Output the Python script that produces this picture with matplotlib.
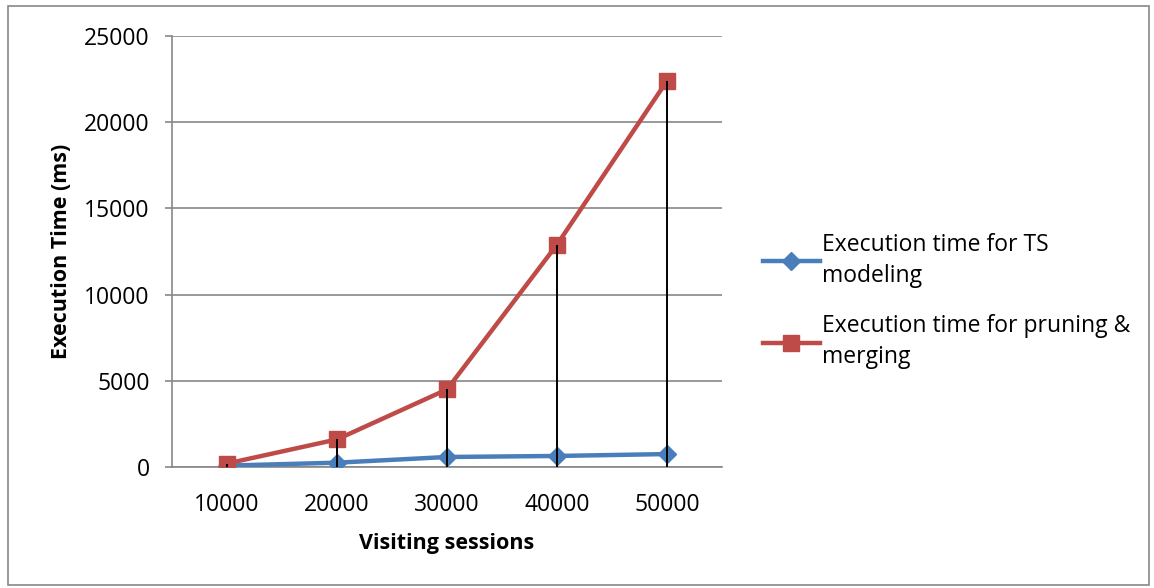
import numpy as np
import matplotlib
matplotlib.use("Agg")
import matplotlib.pyplot as plt
from matplotlib.patches import Rectangle

plt.rcParams['font.family'] = ['Open Sans', 'DejaVu Sans']

# data
sessions = ['10000', '20000', '30000', '40000', '50000']
ts_modeling = [80, 250, 580, 640, 750]
pruning_merging = [200, 1600, 4500, 12900, 22400]

blue = '#4a7ebb'
red = '#be4b48'
grey = '#878787'

fig = plt.figure(figsize=(11.54, 5.88), dpi=100)
ax = fig.add_axes([0.149, 0.2058, 0.4767, 0.733])

x = np.arange(len(sessions))
ax.plot(x, ts_modeling, color=blue, lw=3.2, marker='D', ms=9.5, zorder=3,
        label='Execution time for TS\nmodeling')
ax.plot(x, pruning_merging, color=red, lw=3.2, marker='s', ms=11.5, zorder=3,
        label='Execution time for pruning &\nmerging')

# drop lines from the highest point down to the axis
tops = np.maximum(ts_modeling, pruning_merging)
ax.vlines(x, 0, tops, color='black', lw=1.4, zorder=4)

ax.set_xlim(-0.5, len(sessions) - 0.5)
ax.set_ylim(0, 25000)
ax.set_yticks(np.arange(0, 25001, 5000))
ax.set_xticks(x)
ax.set_xticklabels(sessions)
ax.yaxis.grid(True, color=grey, lw=1.2)
ax.set_axisbelow(True)

for s in ['top', 'right']:
    ax.spines[s].set_visible(False)
for s in ['left', 'bottom']:
    ax.spines[s].set_color(grey)
    ax.spines[s].set_linewidth(1.2)

ax.tick_params(axis='y', length=5, color=grey, width=1.2, labelsize=16.5, pad=11)
ax.tick_params(axis='x', length=0, labelsize=16.5, pad=19)

ax.set_xlabel('Visiting sessions', fontsize=15.5, fontweight='bold', labelpad=11)
ax.set_ylabel('Execution Time (ms)', fontsize=15.5, fontweight='bold', labelpad=9)

leg = fig.legend(loc='center left', bbox_to_anchor=(0.643, 0.488), frameon=False,
                 fontsize=16.5, handlelength=2.5, handletextpad=0.1, labelspacing=1.13)
for t in leg.get_texts():
    t.set_linespacing(1.4)

# outer chart border
fig.patches.append(Rectangle((0.007, 0.005), 0.989, 0.985, transform=fig.transFigure,
                             fill=False, edgecolor=grey, lw=1.2))

fig.savefig('out.png', dpi=100)
